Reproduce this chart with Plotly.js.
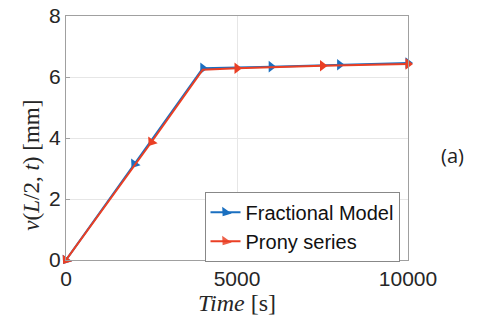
<!DOCTYPE html>
<html>
<head>
<meta charset="utf-8">
<script src="https://cdn.plot.ly/plotly-3.0.1.min.js"></script>
<style>html,body{margin:0;padding:0;background:#fff;}#chart{width:484px;height:327px;}</style>
</head>
<body>
<div id="chart"></div>
<script>
// Data
const fracTime = [0, 2000, 4000, 6000, 8000, 10000];
const fracDisp = [0, 3.15, 6.29, 6.34, 6.40, 6.46];
const pronyTime = [0, 2500, 4000, 5000, 7500, 10000];
const pronyDisp = [0, 3.87, 6.24, 6.29, 6.37, 6.43];
const xTicks = [0, 5000, 10000];
const yTicks = [0, 2, 4, 6, 8];

const blue = '#1a6fc0';
const red = '#ea3f24';

const traces = [
  {
    x: fracTime, y: fracDisp, name: 'Fractional Model', type: 'scatter', mode: 'lines+markers',
    line: {color: blue, width: 2},
    marker: {symbol: 'triangle-right', size: 10, color: blue, angle: [125, 125, 0, 0, 0, 0]},
    cliponaxis: false
  },
  {
    x: pronyTime, y: pronyDisp, name: 'Prony series', type: 'scatter', mode: 'lines+markers',
    line: {color: red, width: 2},
    marker: {symbol: 'triangle-right', size: 10, color: red, opacity: [1, 1, 0, 1, 1, 1], angle: [125, 125, 0, 0, 0, 0]},
    cliponaxis: false
  }
];

const axisCommon = {
  showline: true, mirror: true, linecolor: '#a0a0a0', linewidth: 1,
  showgrid: true, gridcolor: '#e6e6e6', gridwidth: 1,
  zeroline: false, ticks: 'inside', ticklen: 4, tickcolor: '#a0a0a0',
  tickfont: {family: 'Liberation Sans, Arial, sans-serif', size: 21, color: '#262626'}
};

const layout = {
  width: 484, height: 327,
  margin: {l: 66, r: 76, t: 16, b: 67},
  paper_bgcolor: '#fff', plot_bgcolor: '#fff',
  showlegend: true,
  legend: {
    x: 0.405, y: 0.28, xanchor: 'left', yanchor: 'top',
    bgcolor: '#fff', bordercolor: '#888', borderwidth: 1,
    font: {family: 'Liberation Sans, Arial, sans-serif', size: 20, color: '#111'},
    tracegroupgap: 0, itemwidth: 30
  },
  xaxis: Object.assign({}, axisCommon, {
    range: [0, 10000], tickvals: xTicks, ticktext: xTicks.map(String),
    title: {text: '<i>Time</i> [s]', font: {family: 'Liberation Serif, DejaVu Serif, serif', size: 24, color: '#262626'}, standoff: 2}
  }),
  yaxis: Object.assign({}, axisCommon, {
    range: [0, 8], tickvals: yTicks, ticktext: yTicks.map(String)
  }),
  annotations: [
    {
      text: '<i>v</i>(<i>L</i>/2, <i>t</i>) [mm]', xref: 'paper', yref: 'paper',
      x: -0.1, y: 0.39, xanchor: 'center', yanchor: 'middle', textangle: -90, showarrow: false,
      font: {family: 'Liberation Serif, DejaVu Serif, serif', size: 23, color: '#262626'}
    },
    {
      text: '(a)', xref: 'paper', yref: 'paper', x: 1.13, y: 0.43, xanchor: 'center', yanchor: 'middle',
      showarrow: false, font: {family: 'Open Sans, sans-serif', size: 20, color: '#222'}
    }
  ]
};

Plotly.newPlot('chart', traces, layout, {displayModeBar: false, staticPlot: true});
</script>
</body>
</html>
